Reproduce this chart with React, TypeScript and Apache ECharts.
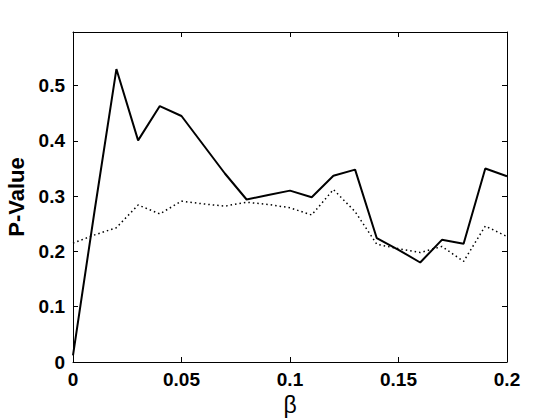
import React, { useEffect, useRef } from "react";
import * as echarts from "echarts";

const betas = [0, 0.01, 0.02, 0.03, 0.04, 0.05, 0.06, 0.07, 0.08, 0.09, 0.1, 0.11, 0.12, 0.13, 0.14, 0.15, 0.16, 0.17, 0.18, 0.19, 0.2];
const solidValues = [0.012, 0.275, 0.53, 0.401, 0.463, 0.445, 0.393, 0.341, 0.294, 0.302, 0.31, 0.298, 0.337, 0.348, 0.224, 0.203, 0.18, 0.221, 0.214, 0.35, 0.336];
const dottedValues = [0.215, 0.23, 0.243, 0.284, 0.268, 0.291, 0.286, 0.282, 0.289, 0.285, 0.279, 0.266, 0.312, 0.272, 0.213, 0.205, 0.198, 0.209, 0.182, 0.246, 0.227];
const xLabelName = "β";
const yLabelName = "P-Value";

const FONT = "'Liberation Sans', Arial, sans-serif";

export default function App() {
  const ref = useRef<HTMLDivElement>(null);
  useEffect(() => {
    if (!ref.current) return;
    document.body.style.margin = "0";
    const chart = echarts.init(ref.current, undefined, { renderer: "svg" });
    const axisCommon = {
      axisLine: { show: true, onZero: false, lineStyle: { color: "#000", width: 1 } },
      axisTick: { show: true, inside: true, length: 5, lineStyle: { color: "#000" } },
      splitLine: { show: false },
    };
    const labelStyle = { color: "#000", fontFamily: FONT, fontWeight: "bold" as const, fontSize: 19 };
    chart.setOption({
      animation: false,
      backgroundColor: "#fff",
      grid: { left: 73, right: 53, top: 32, bottom: 58, outerBoundsMode: "none", containLabel: false },
      xAxis: [
        {
          type: "value",
          min: 0,
          max: 0.2,
          interval: 0.05,
          position: "bottom",
          ...axisCommon,
          axisLabel: { ...labelStyle, margin: 8 },
          name: xLabelName,
          nameLocation: "middle",
          nameGap: 22,
          nameTextStyle: { color: "#000", fontFamily: FONT, fontSize: 23 },
        },
        {
          type: "value",
          min: 0,
          max: 0.2,
          interval: 0.05,
          position: "top",
          ...axisCommon,
          axisLabel: { show: false },
        },
      ],
      yAxis: [
        {
          type: "value",
          min: 0,
          max: 0.597,
          interval: 0.1,
          position: "left",
          ...axisCommon,
          axisLabel: { ...labelStyle, margin: 8, showMaxLabel: false },
          name: yLabelName,
          nameLocation: "middle",
          nameGap: 41,
          nameRotate: 90,
          nameTextStyle: { color: "#000", fontFamily: FONT, fontWeight: "bold", fontSize: 22 },
        },
        {
          type: "value",
          min: 0,
          max: 0.597,
          interval: 0.1,
          position: "right",
          ...axisCommon,
          axisLabel: { show: false },
        },
      ],
      series: [
        {
          type: "line",
          data: betas.map((b, i) => [b, solidValues[i]]),
          showSymbol: false,
          lineStyle: { color: "#000", width: 2 },
          z: 3,
        },
        {
          type: "line",
          data: betas.map((b, i) => [b, dottedValues[i]]),
          showSymbol: false,
          lineStyle: { color: "#000", width: 1.5, type: [1.5, 3] },
          z: 2,
        },
      ],
    });
    return () => chart.dispose();
  }, []);
  return <div ref={ref} style={{ width: 560, height: 420 }} />;
}
